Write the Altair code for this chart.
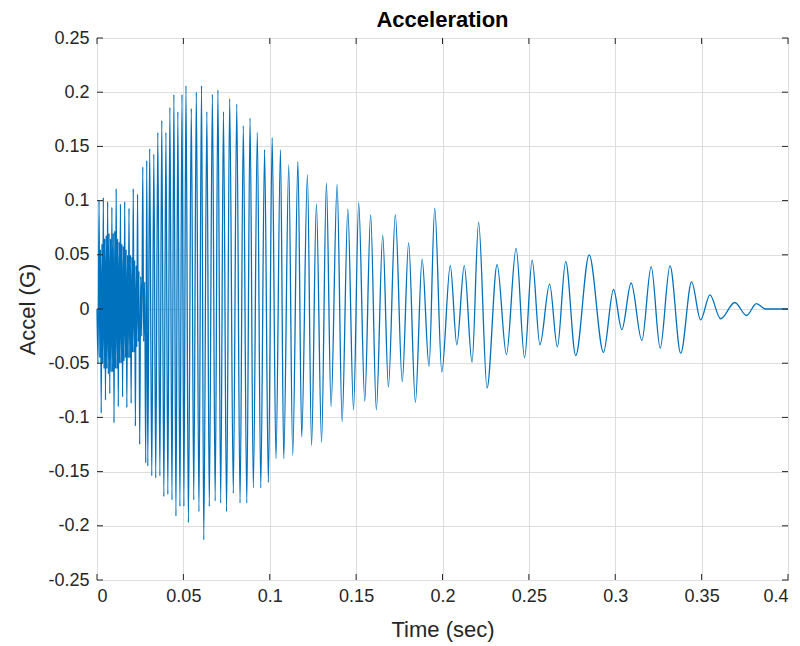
import altair as alt
import pandas as pd

# ---- extrema (time in s, acceleration in G) ----
early_t = [0.00000, 0.00060, 0.00120, 0.00161, 0.00203, 0.00244, 0.00285, 0.00326, 0.00367,
           0.00408, 0.00450, 0.00491, 0.00532, 0.00573, 0.00615, 0.00656, 0.00697, 0.00739,
           0.00780, 0.00821, 0.00862, 0.00903, 0.00945, 0.00986, 0.01027, 0.01068, 0.01110,
           0.01151, 0.01192, 0.01233, 0.01274, 0.01316, 0.01357, 0.01398, 0.01439, 0.01481,
           0.01522, 0.01563, 0.01604, 0.01645, 0.01687, 0.01728, 0.01769, 0.01810, 0.01852,
           0.01893, 0.01934, 0.01976, 0.02017, 0.02058, 0.02099, 0.02140, 0.02181, 0.02223,
           0.02264, 0.02305, 0.02347, 0.02388, 0.02429, 0.02470]
early_v = [0.000, -0.050, 0.100, -0.045, 0.055, -0.096, 0.060, -0.050, 0.103,
           -0.055, 0.065, -0.084, 0.068, -0.055, 0.099, -0.060, 0.070, -0.078,
           0.065, -0.058, 0.094, -0.058, 0.070, -0.105, 0.072, -0.055, 0.111,
           -0.055, 0.065, -0.090, 0.062, -0.050, 0.097, -0.050, 0.060, -0.081,
           0.058, -0.048, 0.099, -0.045, 0.055, -0.091, 0.050, -0.045, 0.093,
           -0.045, 0.050, -0.087, 0.048, -0.040, 0.111, -0.040, 0.045, -0.108,
           0.040, -0.035, 0.106, -0.030, 0.035, -0.125]

rise_t = [0.02530, 0.02590, 0.02650, 0.02700, 0.02760, 0.02820, 0.02880, 0.02940, 0.03050,
          0.03170, 0.03290, 0.03400, 0.03520,
          0.03640, 0.03750, 0.03870, 0.03990, 0.04100, 0.04220, 0.04340, 0.04450, 0.04570,
          0.04680, 0.04800, 0.04920, 0.05030, 0.05150, 0.05290, 0.05460, 0.05600, 0.05750,
          0.05900, 0.06050, 0.06180, 0.06360, 0.06500, 0.06680, 0.06840, 0.07000, 0.07160,
          0.07320, 0.07500, 0.07680, 0.07890, 0.08090, 0.08280, 0.08470, 0.08670, 0.08860,
          0.09050, 0.09280, 0.09480]
rise_v = [0.030, -0.025, 0.131, -0.030, 0.025, -0.142, 0.137, -0.145, 0.148,
          -0.154, 0.143, -0.156, 0.163,
          -0.154, 0.174, -0.173, 0.163, -0.171, 0.186, -0.176, 0.198, -0.191,
          0.182, -0.182, 0.198, -0.182, 0.206, -0.197, 0.185, -0.176, 0.200,
          -0.187, 0.206, -0.213, 0.182, -0.182, 0.198, -0.177, 0.202, -0.179,
          0.182, -0.187, 0.194, -0.170, 0.189, -0.179, 0.169, -0.179, 0.176,
          -0.165, 0.163, -0.165]

decay_t = [0.0970, 0.0992, 0.1014, 0.1036, 0.1062, 0.1081, 0.1110, 0.1133, 0.1163, 0.1185,
           0.1218, 0.1242, 0.1270, 0.1300, 0.1328, 0.1355, 0.1390, 0.1419, 0.1452, 0.1485,
           0.1515, 0.1550, 0.1584, 0.1617, 0.1654, 0.1687, 0.1727, 0.1767, 0.1804, 0.1843,
           0.1882, 0.1922, 0.1955, 0.1996]
decay_v = [0.147, -0.160, 0.158, -0.138, 0.147, -0.138, 0.133, -0.135, 0.136, -0.118,
           0.124, -0.126, 0.097, -0.123, 0.116, -0.090, 0.115, -0.104, 0.092, -0.093,
           0.098, -0.085, 0.087, -0.093, 0.068, -0.072, 0.087, -0.067, 0.061, -0.086,
           0.046, -0.053, 0.093, -0.058]

tail_t = [0.2045, 0.2083, 0.2126, 0.2171, 0.2209, 0.2258, 0.2316, 0.2370, 0.2426, 0.2475,
          0.2519, 0.2564, 0.2620, 0.2665, 0.2713, 0.2771, 0.2849, 0.2932, 0.2990, 0.3038,
          0.3092, 0.3154, 0.3208, 0.3260, 0.3317, 0.3379, 0.3442, 0.3494, 0.3548, 0.3610,
          0.3692, 0.3760, 0.3817, 0.3870, 0.4000]
tail_v = [0.040, -0.033, 0.040, -0.049, 0.080, -0.073, 0.041, -0.042, 0.056, -0.045,
          0.045, -0.033, 0.023, -0.035, 0.044, -0.043, 0.050, -0.040, 0.018, -0.019,
          0.024, -0.029, 0.039, -0.036, 0.040, -0.041, 0.025, -0.010, 0.013, -0.009,
          0.006, -0.006, 0.005, 0.000, 0.000]

x_ticks = [0, 0.05, 0.1, 0.15, 0.2, 0.25, 0.3, 0.35, 0.4]
y_ticks = [-0.25, -0.2, -0.15, -0.1, -0.05, 0, 0.05, 0.1, 0.15, 0.2, 0.25]

df = pd.DataFrame({
    "t": early_t + rise_t + decay_t + tail_t,
    "a": early_v + rise_v + decay_v + tail_v,
})
xt = pd.DataFrame({"t": x_ticks})
yt = pd.DataFrame({"a": y_ticks})

W, H = 691, 542
FONT = "Liberation Sans"
BOX = "#262626"

xs = alt.Scale(domain=[0, 0.4], nice=False, zero=False)
ys = alt.Scale(domain=[-0.25, 0.25], nice=False, zero=False)

x_axis = alt.Axis(values=x_ticks, title="Time (sec)", format="~g", grid=True,
                  labelPadding=7, titlePadding=14)
y_axis = alt.Axis(values=y_ticks, title="Accel (G)", grid=True,
                  labelExpr="replace(format(datum.value, '~g'), '\u2212', '-')",
                  labelPadding=8, titlePadding=8)

line = alt.Chart(df).mark_line(
    color="#0072BD", strokeWidth=1.3, interpolate="monotone"
).encode(
    x=alt.X("t:Q", scale=xs, axis=x_axis),
    y=alt.Y("a:Q", scale=ys, axis=y_axis),
)

tick_len = 6
top_ticks = alt.Chart(xt).mark_rule(color=BOX, strokeWidth=1).encode(
    x=alt.X("t:Q", scale=xs), y=alt.value(0), y2=alt.value(tick_len))
bot_ticks = alt.Chart(xt).mark_rule(color=BOX, strokeWidth=1).encode(
    x=alt.X("t:Q", scale=xs), y=alt.value(H - tick_len), y2=alt.value(H))
left_ticks = alt.Chart(yt).mark_rule(color=BOX, strokeWidth=1).encode(
    y=alt.Y("a:Q", scale=ys), x=alt.value(0), x2=alt.value(tick_len))
right_ticks = alt.Chart(yt).mark_rule(color=BOX, strokeWidth=1).encode(
    y=alt.Y("a:Q", scale=ys), x=alt.value(W - tick_len), x2=alt.value(W))

chart = alt.layer(line, top_ticks, bot_ticks, left_ticks, right_ticks).properties(
    width=W, height=H,
    background="white",
    title=alt.TitleParams("Acceleration", fontSize=22, fontWeight="bold", font=FONT,
                          color="#000000", offset=-3, anchor="middle"),
    autosize=alt.AutoSizeParams(type="none"),
    padding={"left": 97, "top": 38, "right": 12, "bottom": 66},
).configure_view(
    stroke=BOX, strokeWidth=1
).configure_axis(
    domain=False, ticks=False, gridColor="#dedede", gridWidth=1,
    labelFont=FONT, labelFontSize=18, labelColor=BOX,
    titleFont=FONT, titleFontSize=22, titleFontWeight="normal", titleColor=BOX,
)

chart.save("out.html", embed_options={"renderer": "svg", "actions": False})
